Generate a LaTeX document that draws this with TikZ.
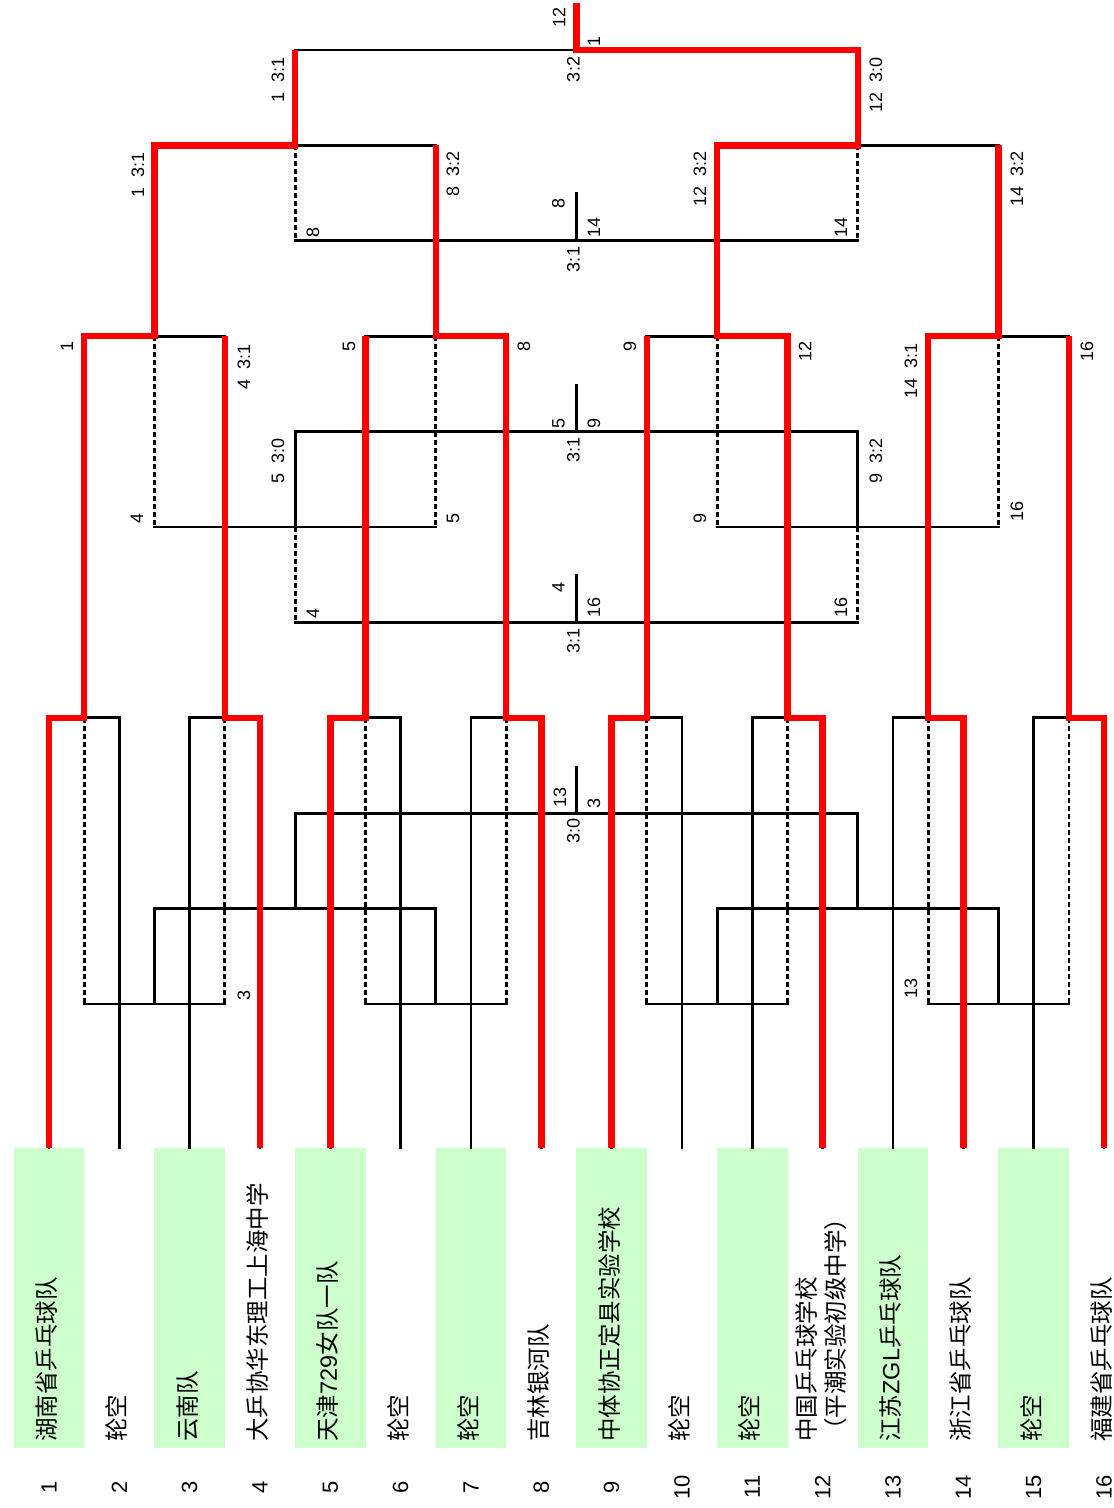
\documentclass[tikz,border=0pt]{standalone}
\usepackage{fontspec}
\setmainfont{Liberation Sans}
\newfontfamily\cjk{Noto Sans CJK SC}
\newfontfamily\latn{Liberation Sans}
\definecolor{boxgreen}{RGB}{204,255,204}
\begin{document}
\begin{tikzpicture}[x=0.5pt,y=-0.5pt,
  bl/.style={line width=1.35pt, black, line cap=rect},
  dsh/.style={line width=1.35pt, black, dash pattern=on 2.5pt off 1.5pt},
  rd/.style={line width=3.3pt, red, line join=miter},
  lab/.style={rotate=90, inner sep=0pt, font=\fontsize{9}{10}\selectfont},
  num/.style={rotate=90, inner sep=0pt, font=\fontsize{11}{12}\selectfont},
  tname/.style={rotate=90, anchor=west, inner sep=0pt, align=left, font=\cjk\fontsize{11.75}{14.5}\selectfont},
  tbox/.style={minimum width=35.2pt, minimum height=150pt, inner sep=0pt, draw=none}
]
\useasboundingbox (0,0) rectangle (1113,1508);
% ---------- coordinates ----------
\def\LA{50}\def\LB{145.4}\def\LC{240.8}\def\LD{336.2}\def\LE{431.6}\def\LF{527}
\def\LG{622.4}\def\LH{717.8}\def\LI{813.2}\def\LJ{908.6}\def\LK{1004}
\foreach \i in {1,...,16}{
  \pgfmathsetmacro\xx{49+(\i-1)*70.333}
  \coordinate (tt\i) at (\xx,\LH);
}
\foreach \p in {1,...,8}{
  \pgfmathsetmacro\xx{84.167+(\p-1)*140.667}
  \coordinate (pr\p) at (\xx,\LH);
  \coordinate (pq\p) at (\xx,\LD);
  \coordinate (pd\p) at (\xx,\LK);
}
\foreach \q in {1,...,4}{
  \pgfmathsetmacro\xx{154.5+(\q-1)*281.333}
  \coordinate (qq\q) at (\xx,\LD);
  \coordinate (qs\q) at (\xx,\LB);
  \coordinate (qe\q) at (\xx,\LF);
  \coordinate (qd\q) at (\xx,\LK);
  \coordinate (qn\q) at (\xx,\LJ);
}
\foreach \j in {1,2}{
  \pgfmathsetmacro\xx{295.167+(\j-1)*562.667}
  \coordinate (hs\j) at (\xx,\LB);
  \coordinate (hf\j) at (\xx,\LA);
  \coordinate (ht\j) at (\xx,\LC);
  \coordinate (he\j) at (\xx,\LF);
  \coordinate (hv\j) at (\xx,\LE);
  \coordinate (hx\j) at (\xx,\LG);
  \coordinate (hn\j) at (\xx,\LJ);
  \coordinate (hg\j) at (\xx,\LI);
}
\coordinate (cf) at (576.5,\LA); \coordinate (cfT) at (576.5,3);
\coordinate (c2) at (576.5,\LC); \coordinate (c2T) at (576.5,193.5);
\coordinate (c4) at (576.5,\LE); \coordinate (c4T) at (576.5,385);
\coordinate (c6) at (576.5,\LG); \coordinate (c6T) at (576.5,575.5);
\coordinate (c8) at (576.5,\LI); \coordinate (c8T) at (576.5,767);
% ---------- team boxes, names, numbers ----------
\foreach \i in {1,...,16}{
  \pgfmathsetmacro\xx{49+(\i-1)*70.333}
  \pgfmathtruncatemacro\odd{mod(\i,2)}
  \ifnum\odd=1
    \node[tbox, fill=boxgreen] (box\i) at (\xx,1298) {};
  \else
    \node[tbox] (box\i) at (\xx,1298) {};
  \fi
  \node[num] (no\i) at (\xx,1487) {\i};
}
\node[tname] (nm1) at (46.5,1442) {湖南省乒乓球队};
\node[tname] (nm2) at (116.8,1442) {轮空};
\node[tname] (nm3) at (187.2,1442) {云南队};
\node[tname] (nm4) at (257.5,1442) {大乒协华东理工上海中学};
\node[tname] (nm5) at (327.8,1442) {天津{\latn 729}女队一队};
\node[tname] (nm6) at (398.2,1442) {轮空};
\node[tname] (nm7) at (468.5,1442) {轮空};
\node[tname] (nm8) at (538.8,1442) {吉林银河队};
\node[tname] (nm9) at (609.2,1442) {中体协正定县实验学校};
\node[tname] (nm10) at (679.5,1442) {轮空};
\node[tname] (nm11) at (749.8,1442) {轮空};
\node[tname] (nm12) at (821.2,1442) {中国乒乓球学校\\（平潮实验初级中学）};
\node[tname] (nm13) at (890.5,1442) {江苏{\latn ZGL}乒乓球队};
\node[tname] (nm14) at (960.8,1442) {浙江省乒乓球队};
\node[tname] (nm15) at (1031.2,1442) {轮空};
\node[tname] (nm16) at (1101.5,1442) {福建省乒乓球队};
% ---------- black bracket ----------
\foreach \i in {1,...,16}{ \draw[bl] (box\i.north) -- (tt\i); }
\foreach \a/\b/\p in {1/2/1,3/4/2,5/6/3,7/8/4,9/10/5,11/12/6,13/14/7,15/16/8}{
  \draw[bl] (tt\a) -- (tt\b);
  \draw[bl] (pr\p) -- (pq\p);
  \draw[dsh] (pr\p) -- (pd\p);
}
\foreach \a/\b in {1/2,3/4,5/6,7/8}{
  \draw[bl] (pq\a) -- (pq\b);
  \draw[bl] (pd\a) -- (pd\b);
}
\foreach \q in {1,...,4}{
  \draw[bl] (qq\q) -- (qs\q);
  \draw[dsh] (qq\q) -- (qe\q);
  \draw[bl] (qd\q) -- (qn\q);
}
\foreach \a/\b in {1/2,3/4}{
  \draw[bl] (qs\a) -- (qs\b);
  \draw[bl] (qe\a) -- (qe\b);
  \draw[bl] (qn\a) -- (qn\b);
}
\foreach \j in {1,2}{
  \draw[bl] (hs\j) -- (hf\j);
  \draw[dsh] (hs\j) -- (ht\j);
  \draw[bl] (he\j) -- (hv\j);
  \draw[dsh] (he\j) -- (hx\j);
  \draw[bl] (hn\j) -- (hg\j);
}
\draw[bl] (hf1) -- (hf2);
\draw[bl] (ht1) -- (ht2);
\draw[bl] (hv1) -- (hv2);
\draw[bl] (hx1) -- (hx2);
\draw[bl] (hg1) -- (hg2);
\draw[bl] (c2) -- (c2T);
\draw[bl] (c4) -- (c4T);
\draw[bl] (c6) -- (c6T);
\draw[bl] (c8) -- (c8T);
% ---------- red winner paths ----------
\draw[rd] (box1.north) -- (tt1) -- (pr1) -- (pq1) -- (qq1) -- (qs1) -- (hs1) -- (hf1);
\draw[rd] (box4.north) -- (tt4) -- (pr2) -- (pq2);
\draw[rd] (box5.north) -- (tt5) -- (pr3) -- (pq3);
\draw[rd] (box8.north) -- (tt8) -- (pr4) -- (pq4) -- (qq2) -- (qs2);
\draw[rd] (box9.north) -- (tt9) -- (pr5) -- (pq5);
\draw[rd] (box12.north) -- (tt12) -- (pr6) -- (pq6) -- (qq3) -- (qs3) -- (hs2) -- (hf2) -- (cf) -- (cfT);
\draw[rd] (box14.north) -- (tt14) -- (pr7) -- (pq7) -- (qq4) -- (qs4);
\draw[rd] (box16.north) -- (tt16) -- (pr8) -- (pq8);
% ---------- labels ----------
% final
\node[lab] (fW) at (559,17.5) {12};
\node[lab] (fL) at (594,42) {1};
\node[lab] (fS) at (573.5,69.5) {3:2};
% level 0 / 1
\node[lab] (s01) at (278,79.5) {1~~3:1};
\node[lab] (s02) at (876,85) {12~~3:0};
\node[lab] (s11) at (138,175) {1~~3:1};
\node[lab] (s12) at (453,174) {8~~3:2};
\node[lab] (s13) at (700,179) {12~~3:2};
\node[lab] (s14) at (1017,179) {14~~3:2};
% level 2 (3rd place)
\node[lab] (s21) at (313,232.5) {8};
\node[lab] (s22) at (841,227) {14};
\node[lab] (c2W) at (558.5,203.5) {8};
\node[lab] (c2L) at (594,227.5) {14};
\node[lab] (c2S) at (573.5,259.5) {3:1};
% level 3
\node[lab] (s31) at (67,346.5) {1};
\node[lab] (s32) at (244,366.5) {4~~3:1};
\node[lab] (s33) at (349,346.5) {5};
\node[lab] (s34) at (524,346.5) {8};
\node[lab] (s35) at (630,346.5) {9};
\node[lab] (s36) at (805,351) {12};
\node[lab] (s37) at (911,370.5) {14~~3:1};
\node[lab] (s38) at (1087,351) {16};
% level 4 (5th place)
\node[lab] (s41) at (278,461) {5~~3:0};
\node[lab] (s42) at (876,461) {9~~3:2};
\node[lab] (c4W) at (558.5,423) {5};
\node[lab] (c4L) at (594,423) {9};
\node[lab] (c4S) at (573.5,449.5) {3:1};
% level 5
\node[lab] (s51) at (137,518) {4};
\node[lab] (s52) at (453,518) {5};
\node[lab] (s53) at (700,518) {9};
\node[lab] (s54) at (1017,511) {16};
% level 6 (7th place)
\node[lab] (s61) at (313,613) {4};
\node[lab] (s62) at (841,607.5) {16};
\node[lab] (c6W) at (558.5,587) {4};
\node[lab] (c6L) at (594,607.5) {16};
\node[lab] (c6S) at (573.5,640.5) {3:1};
% level 8
\node[lab] (c8W) at (560,797.5) {13};
\node[lab] (c8L) at (594,803) {3};
\node[lab] (c8S) at (573.5,830.5) {3:0};
% level 10
\node[lab] (sA1) at (244,995) {3};
\node[lab] (sA2) at (911,988) {13};
\end{tikzpicture}
\end{document}
